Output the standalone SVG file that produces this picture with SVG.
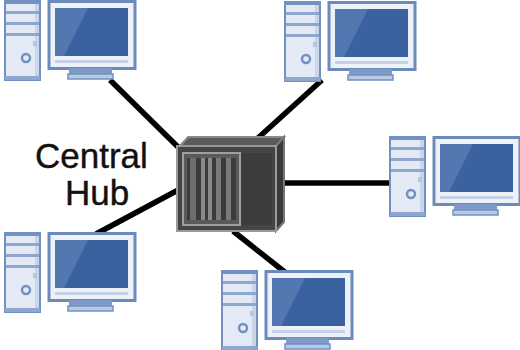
<svg xmlns="http://www.w3.org/2000/svg" xmlns:xlink="http://www.w3.org/1999/xlink" width="520" height="350" viewBox="0 0 520 350">
  <style>
    .link { stroke: #000; stroke-width: 5.5; stroke-linecap: butt; fill: none; }
    .label { font-family: "Liberation Sans", Arial, sans-serif; font-size: 35px; fill: #111; stroke: #111; stroke-width: 0.4; }
    .case { fill: #e3eaf5; stroke: #7291c1; stroke-width: 2; }
    .bay { fill: #8ea7cf; }
    .frame { fill: #eef2f8; stroke: #6b8bbd; stroke-width: 3; }
    .screen { fill: #3a62a0; }
    .glare { fill: #5378b1; }
  </style>
  <defs>
    <!-- desktop computer: tower on the left, monitor on the right -->
    <g id="pc">
      <rect class="case" x="1" y="1" width="35" height="79"/>
      <rect x="1" y="1" width="35" height="3" fill="#7291c1"/>
      <rect x="31" y="4" width="4" height="74" fill="#c9d5e8"/>
      <rect class="bay" x="2" y="11" width="33" height="3"/>
      <rect class="bay" x="2" y="22" width="33" height="3"/>
      <rect class="bay" x="2" y="33" width="33" height="3"/>
      <rect x="29" y="41" width="4" height="5" fill="#b5c6e0"/>
      <circle cx="22" cy="58" r="4" fill="none" stroke="#7291c1" stroke-width="2.5"/>
      <rect x="1" y="76" width="35" height="4" fill="#8ea7cf"/>
      <rect class="frame" x="45" y="1.5" width="86" height="67"/>
      <rect class="screen" x="51" y="8" width="73" height="48"/>
      <polygon class="glare" points="51,8 84,8 60,56 51,56"/>
      <rect x="51" y="60" width="73" height="3" fill="#c4d1e6"/>
      <rect x="65" y="68" width="43" height="6" fill="#7e9bc7"/>
      <rect x="64" y="74" width="45" height="5" fill="#b9c9e2" stroke="#7291c1" stroke-width="1.5"/>
    </g>
  </defs>

  <!-- connectors -->
  <g id="links">
    <line class="link" x1="110" y1="80" x2="178" y2="147"/>
    <line class="link" x1="258" y1="138" x2="322" y2="80"/>
    <line class="link" x1="282" y1="183" x2="391" y2="183"/>
    <line class="link" x1="233" y1="231" x2="286" y2="273"/>
    <line class="link" x1="96" y1="234" x2="180" y2="189"/>
  </g>

  <!-- central hub -->
  <g id="hub">
    <polygon points="180,146 188,137 284,137 276,146" fill="#5a5a5a" stroke="#8a8a8a" stroke-width="2"/>
    <polygon points="276,146 284,137 284,222 276,231" fill="#3a3a3a" stroke="#777" stroke-width="2"/>
    <rect x="177" y="146" width="99" height="85" fill="#454545" stroke="#9a9a9a" stroke-width="2"/>
    <rect x="240" y="153" width="32" height="72" fill="#3c3c3c"/>
    <rect x="183" y="153" width="57" height="72" fill="#5a5a5a" stroke="#a0a0a0" stroke-width="2"/>
    <rect x="187" y="158" width="49" height="62" fill="#3b3b3b"/>
    <rect x="190" y="158" width="6" height="62" fill="#6e6e6e"/>
    <rect x="201" y="158" width="4" height="62" fill="#8a8a8a"/>
    <rect x="208" y="158" width="4" height="62" fill="#8a8a8a"/>
    <rect x="216" y="158" width="5" height="62" fill="#7a7a7a"/>
    <rect x="226" y="158" width="5" height="62" fill="#7a7a7a"/>
    <text class="label" x="35" y="168">Central</text>
    <text class="label" x="65" y="205">Hub</text>
  </g>

  <g id="pc-top-left"><use xlink:href="#pc" transform="translate(4,0)"/></g>
  <g id="pc-top"><use xlink:href="#pc" transform="translate(284,1)"/></g>
  <g id="pc-right"><use xlink:href="#pc" transform="translate(389,136)"/></g>
  <g id="pc-bottom"><use xlink:href="#pc" transform="translate(221,270)"/></g>
  <g id="pc-bottom-left"><use xlink:href="#pc" transform="translate(4,232)"/></g>
</svg>
